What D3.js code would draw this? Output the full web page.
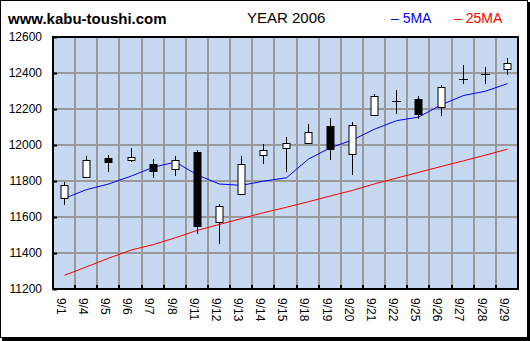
<!DOCTYPE html>
<html>
<head>
<meta charset="utf-8">
<script src="https://cdn.jsdelivr.net/npm/d3@7/dist/d3.min.js"></script>
<style>
  html, body { margin: 0; padding: 0; background: #fff; }
  svg { display: block; }
  text { font-family: "Liberation Sans", Arial, sans-serif; }
</style>
</head>
<body>
<svg id="chart" width="530" height="341"></svg>
<script>
// Daily Nikkei-style candles for September 2006
const dates = ["9/1","9/4","9/5","9/6","9/7","9/8","9/11","9/12","9/13","9/14","9/15",
               "9/18","9/19","9/20","9/21","9/22","9/25","9/26","9/27","9/28","9/29"];
const opens  = [11704,11824,11928,11915,11894,11865,11961,11571,11726,11943,11982,
                12009,12106,11948,12168,12243,12256,12209,12365,12393,12421];
const highs  = [11794,11939,11944,11983,11922,11939,11972,11672,11939,12007,12046,
                12117,12150,12128,12283,12306,12272,12333,12444,12433,12483];
const lows   = [11669,11824,11852,11907,11818,11829,11507,11448,11726,11896,11852,
                12009,11918,11835,12168,12174,12146,12163,12341,12341,12387];
const closes = [11776,11915,11907,11932,11857,11915,11552,11661,11894,11971,12011,
                12072,11976,12111,12272,12243,12174,12321,12365,12393,12454];
// moving averages
const ma5  = [11704,11752,11783,11828,11877,11905,11833,11783,11776,11799,11818,
              11922,11985,12028,12088,12135,12155,12224,12275,12299,12341];
const ma25 = [11276,11323,11371,11417,11447,11485,11526,11559,11591,11624,11654,
              11685,11717,11748,11784,11816,11848,11881,11912,11944,11977];
const yTicks = [11200,11400,11600,11800,12000,12200,12400,12600];

const svg = d3.select("#chart");
const L = 53, R = 518, T = 37, B = 289;

const x = d3.scaleBand().domain(dates).range([L, R]).paddingInner(0).paddingOuter(0);
const y = d3.scaleLinear().domain([11200, 12600]).range([B, T]);
const cx = d => Math.round(x(d) + x.bandwidth() / 2) + 0.5;

// outer frame with heavier right/bottom edge
svg.append("rect").attr("x", 0.5).attr("y", 0.5).attr("width", 527).attr("height", 337)
  .attr("fill", "#fff").attr("stroke", "#000").attr("stroke-width", 1);
svg.append("rect").attr("x", 527).attr("y", 2).attr("width", 3).attr("height", 339).attr("fill", "#000");
svg.append("rect").attr("x", 2).attr("y", 338).attr("width", 528).attr("height", 3).attr("fill", "#000");

// header
svg.append("text").attr("x", 8).attr("y", 24).attr("font-size", 15).attr("font-weight", "bold")
  .attr("fill", "#000").text("www.kabu-toushi.com");
svg.append("text").attr("x", 247).attr("y", 23).attr("font-size", 15)
  .attr("fill", "#000").text("YEAR 2006");
svg.append("text").attr("x", 391).attr("y", 23).attr("font-size", 14)
  .attr("fill", "#0000ff").text("\u2013 5MA");
svg.append("text").attr("x", 454).attr("y", 23).attr("font-size", 14)
  .attr("fill", "#ff0000").text("\u2013 25MA");

// plot background
svg.append("rect").attr("x", L).attr("y", T).attr("width", R - L).attr("height", B - T)
  .attr("fill", "#c6d9f0");

// grid
const grid = svg.append("g").attr("stroke", "#999").attr("stroke-width", 2).attr("shape-rendering", "crispEdges");
grid.selectAll("line.h").data(yTicks.slice(1, -1)).join("line")
  .attr("x1", L).attr("x2", R).attr("y1", d => Math.round(y(d))).attr("y2", d => Math.round(y(d)));
grid.selectAll("line.v").data(dates.slice(1)).join("line")
  .attr("x1", d => Math.round(x(d))).attr("x2", d => Math.round(x(d))).attr("y1", T).attr("y2", B);

// axes
const yAxis = d3.axisLeft(y).tickValues(yTicks).tickSize(-4).tickPadding(11).tickFormat(d3.format("d"));
const gy = svg.append("g").attr("transform", `translate(${L},0)`).call(yAxis);
gy.select(".domain").remove();
gy.selectAll(".tick line").attr("stroke", "#000").attr("stroke-width", 2);
gy.selectAll(".tick text").attr("font-size", 12).attr("fill", "#000")
  .attr("font-family", "'Liberation Sans', Arial, sans-serif");

const xAxis = d3.axisBottom(x).tickSize(0).tickFormat(d => d);
const gx = svg.append("g").attr("transform", `translate(0,${B})`).call(xAxis);
gx.select(".domain").remove();
gx.selectAll(".tick text")
  .attr("font-size", 12).attr("fill", "#000").attr("font-family", "'Liberation Sans', Arial, sans-serif")
  .attr("text-anchor", "start").attr("x", 0).attr("y", 0).attr("dy", "0.35em")
  .attr("transform", "translate(-3,9) rotate(90)");
// inward ticks on the x axis at band boundaries
svg.append("g").selectAll("line").data(dates.slice(1)).join("line")
  .attr("x1", d => Math.round(x(d))).attr("x2", d => Math.round(x(d)))
  .attr("y1", B - 4).attr("y2", B)
  .attr("stroke", "#000").attr("stroke-width", 2).attr("shape-rendering", "crispEdges");

// plot frame
svg.append("rect").attr("x", L).attr("y", T).attr("width", R - L).attr("height", B - T)
  .attr("fill", "none").attr("stroke", "#000").attr("stroke-width", 2).attr("shape-rendering", "crispEdges");

// moving average lines
const line = d3.line().x((d, i) => cx(dates[i])).y(d => y(d));
svg.append("path").datum(ma25).attr("d", line).attr("fill", "none")
  .attr("stroke", "#ff0000").attr("stroke-width", 1);
svg.append("path").datum(ma5).attr("d", line).attr("fill", "none")
  .attr("stroke", "#0000ff").attr("stroke-width", 1);

// candles
const bw = 7;
const candles = svg.append("g").selectAll("g").data(dates).join("g");
candles.append("line")
  .attr("x1", d => cx(d)).attr("x2", d => cx(d))
  .attr("y1", (d, i) => Math.round(y(highs[i]))).attr("y2", (d, i) => Math.round(y(lows[i])))
  .attr("stroke", "#000").attr("stroke-width", 1);
candles.each(function (d, i) {
  const g = d3.select(this);
  const top = Math.round(y(Math.max(opens[i], closes[i])));
  const bot = Math.round(y(Math.min(opens[i], closes[i])));
  const c = cx(d);
  if (bot - top < 1) {
    g.append("line").attr("x1", c - 4.5).attr("x2", c + 4.5).attr("y1", top + 0.5).attr("y2", top + 0.5)
      .attr("stroke", "#000").attr("stroke-width", 1);
  } else {
    g.append("rect").attr("x", c - bw / 2 - 0.5 + 0.5).attr("y", top + 0.5)
      .attr("width", bw).attr("height", bot - top)
      .attr("fill", closes[i] >= opens[i] ? "#fff" : "#000")
      .attr("stroke", "#000").attr("stroke-width", 1);
  }
});
</script>
</body>
</html>
